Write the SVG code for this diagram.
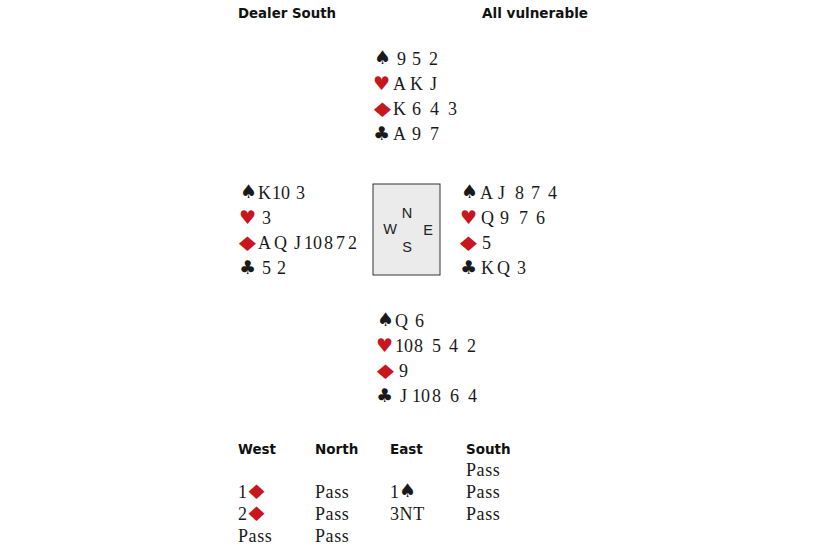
<svg xmlns="http://www.w3.org/2000/svg" width="830" height="550" viewBox="0 0 830 550">
<style>
.hd{font-family:"DejaVu Sans",sans-serif;font-weight:bold;font-size:13.5px;fill:#111}
.c{font-family:"Liberation Serif",serif;font-size:18px;fill:#1a1a1a}
.b{font-family:"Liberation Serif",serif;font-size:18px;fill:#1a1a1a;letter-spacing:0.6px}
.s{font-family:"DejaVu Sans",sans-serif;font-size:19px;fill:#1a1a1a}
.d{font-family:"DejaVu Sans",sans-serif;font-size:20px;fill:#c8161e}
.r{fill:#c8161e}
.cmp{font-family:"Liberation Sans",sans-serif;font-size:14.5px;fill:#222;text-anchor:middle}
</style>
<rect width="830" height="550" fill="#ffffff"/>
<g id="header">
<text class="hd" x="238" y="18" textLength="98" lengthAdjust="spacingAndGlyphs">Dealer South</text>
<text class="hd" x="482" y="18" textLength="106" lengthAdjust="spacingAndGlyphs">All vulnerable</text>
</g>
<g id="north">
<text class="s" x="374" y="64">♠</text>
<text class="c" y="65"><tspan x="397">9</tspan><tspan x="412">5</tspan><tspan x="429">2</tspan></text>
<text class="s r" x="373" y="90">♥</text>
<text class="c" y="90"><tspan x="393">A</tspan><tspan x="410">K</tspan><tspan x="430">J</tspan></text>
<text class="d" transform="translate(369,117) scale(1.5,1)">♦</text>
<text class="c" y="115"><tspan x="393">K</tspan><tspan x="412">6</tspan><tspan x="430">4</tspan><tspan x="448">3</tspan></text>
<text class="s" x="373" y="140">♣</text>
<text class="c" y="140"><tspan x="393">A</tspan><tspan x="412">9</tspan><tspan x="430">7</tspan></text>
</g>
<g id="west">
<text class="s" x="240" y="198">♠</text>
<text class="c" y="199"><tspan x="258">K</tspan><tspan x="272">10</tspan><tspan x="296">3</tspan></text>
<text class="s r" x="239" y="224">♥</text>
<text class="c" y="224"><tspan x="262">3</tspan></text>
<text class="d" transform="translate(234,251) scale(1.5,1)">♦</text>
<text class="c" y="249"><tspan x="258">A</tspan><tspan x="274">Q</tspan><tspan x="294">J</tspan><tspan x="304">10</tspan><tspan x="324">8</tspan><tspan x="336">7</tspan><tspan x="348">2</tspan></text>
<text class="s" x="239" y="274">♣</text>
<text class="c" y="274"><tspan x="262">5</tspan><tspan x="277">2</tspan></text>
</g>
<g id="compass">
<rect x="373" y="184" width="67" height="91" fill="#ebebeb" stroke="#333" stroke-width="1"/>
<text class="cmp" x="407" y="218">N</text>
<text class="cmp" x="390" y="234">W</text>
<text class="cmp" x="428" y="235">E</text>
<text class="cmp" x="407" y="252">S</text>
</g>
<g id="east">
<text class="s" x="461" y="198">♠</text>
<text class="c" y="199"><tspan x="480">A</tspan><tspan x="498">J</tspan><tspan x="515">8</tspan><tspan x="531">7</tspan><tspan x="548">4</tspan></text>
<text class="s r" x="460" y="224">♥</text>
<text class="c" y="224"><tspan x="481">Q</tspan><tspan x="500">9</tspan><tspan x="519">7</tspan><tspan x="536">6</tspan></text>
<text class="d" transform="translate(455,251) scale(1.5,1)">♦</text>
<text class="c" y="249"><tspan x="482">5</tspan></text>
<text class="s" x="460" y="274">♣</text>
<text class="c" y="274"><tspan x="481">K</tspan><tspan x="497">Q</tspan><tspan x="517">3</tspan></text>
</g>
<g id="south">
<text class="s" x="377" y="326">♠</text>
<text class="c" y="327"><tspan x="395">Q</tspan><tspan x="415">6</tspan></text>
<text class="s r" x="376" y="352">♥</text>
<text class="c" y="352"><tspan x="395">10</tspan><tspan x="414">8</tspan><tspan x="432">5</tspan><tspan x="449">4</tspan><tspan x="467">2</tspan></text>
<text class="d" transform="translate(372,379) scale(1.5,1)">♦</text>
<text class="c" y="377"><tspan x="399">9</tspan></text>
<text class="s" x="376" y="402">♣</text>
<text class="c" y="402"><tspan x="400">J</tspan><tspan x="412">10</tspan><tspan x="432">8</tspan><tspan x="450">6</tspan><tspan x="468">4</tspan></text>
</g>
<g id="bidding">
<text class="hd" x="238" y="454">West</text>
<text class="hd" x="315" y="454">North</text>
<text class="hd" x="390" y="454">East</text>
<text class="hd" x="466" y="454">South</text>
<text class="b" x="466" y="476">Pass</text>
<text class="b" x="238" y="498">1</text><text class="d" transform="translate(244,499) scale(1.4,1)" font-size="18">♦</text>
<text class="b" x="315" y="498">Pass</text>
<text class="b" x="390" y="498">1</text><text class="s" x="399" y="497" font-size="15">♠</text>
<text class="b" x="466" y="498">Pass</text>
<text class="b" x="238" y="520">2</text><text class="d" transform="translate(244,521) scale(1.4,1)" font-size="18">♦</text>
<text class="b" x="315" y="520">Pass</text>
<text class="b" x="390" y="520">3NT</text>
<text class="b" x="466" y="520">Pass</text>
<text class="b" x="238" y="542">Pass</text>
<text class="b" x="315" y="542">Pass</text>
</g>
</svg>
